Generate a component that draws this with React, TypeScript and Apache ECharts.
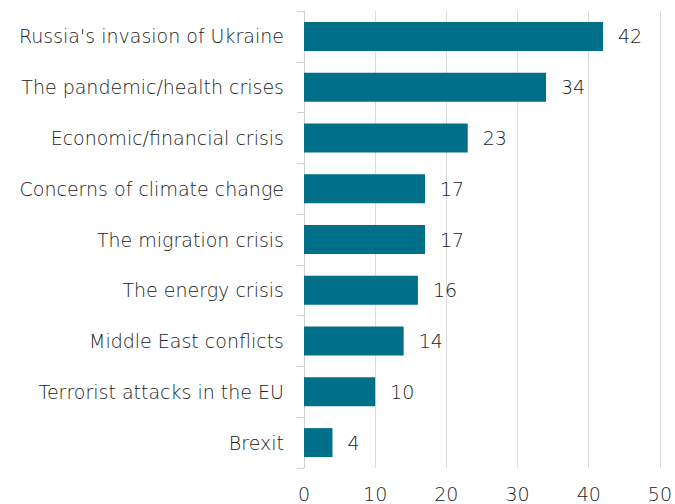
import React, { useEffect, useRef } from "react";
import * as echarts from "echarts";

const categories = [
  "Russia's invasion of Ukraine",
  "The pandemic/health crises",
  "Economic/financial crisis",
  "Concerns of climate change",
  "The migration crisis",
  "The energy crisis",
  "Middle East conflicts",
  "Terrorist attacks in the EU",
  "Brexit",
];
const values = [42, 34, 23, 17, 17, 16, 14, 10, 4];

export default function App() {
  const ref = useRef<HTMLDivElement>(null);
  useEffect(() => {
    document.body.style.margin = "0";
    const chart = echarts.init(ref.current!, null, { renderer: "svg" });
    const font = "DejaVu Sans";
    chart.setOption({
      animation: false,
      grid: { left: 304, right: 14, top: 11, bottom: 36 },
      xAxis: {
        type: "value",
        min: 0,
        max: 50,
        interval: 10,
        axisLine: { show: false },
        axisTick: { show: false },
        splitLine: { lineStyle: { color: "#dcdcdc", width: 1 } },
        axisLabel: { fontSize: 19, color: "#222", fontFamily: font, fontWeight: 200, margin: 16 },
      },
      yAxis: {
        type: "category",
        inverse: true,
        data: categories,
        axisLine: { show: true, lineStyle: { color: "#d0d0d0" } },
        axisTick: { show: true, length: 7, lineStyle: { color: "#d0d0d0" } },
        axisLabel: { fontSize: 19, color: "#222", fontFamily: font, fontWeight: 200, margin: 20 },
      },
      series: [
        {
          type: "bar",
          data: values,
          barWidth: 29,
          itemStyle: { color: "#006f89" },
          label: {
            show: true,
            position: "right",
            distance: 15,
            fontSize: 19,
            color: "#222",
            fontFamily: font,
            fontWeight: 200,
          },
        },
      ],
    });
    return () => chart.dispose();
  }, []);
  return <div ref={ref} style={{ width: 675, height: 504 }} />;
}
